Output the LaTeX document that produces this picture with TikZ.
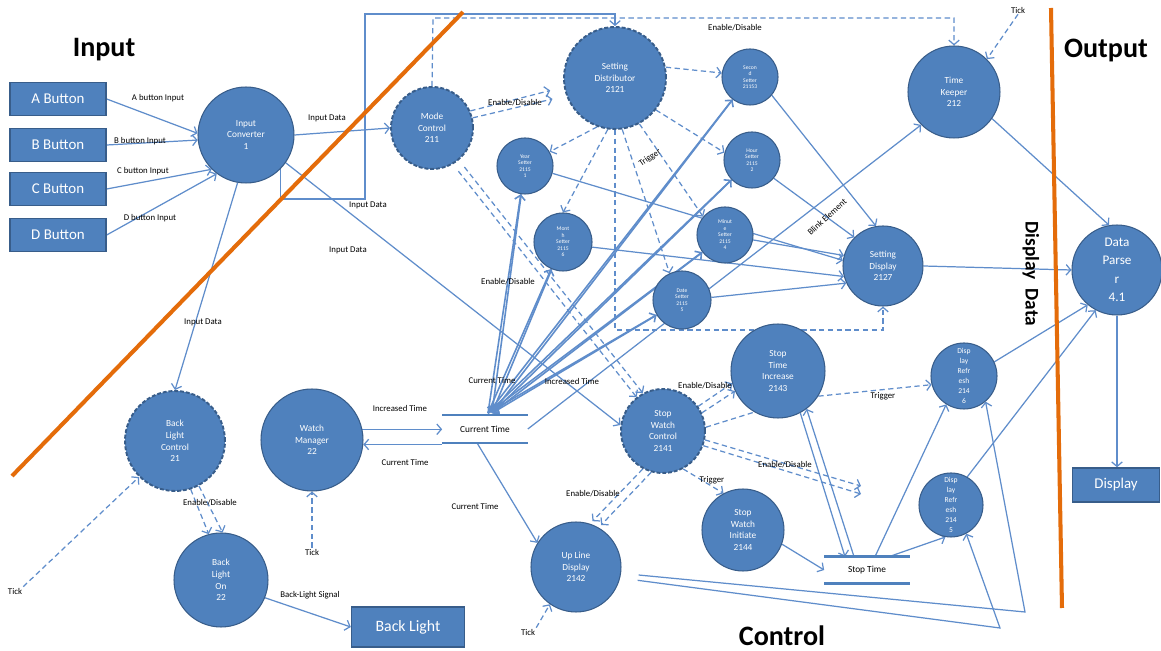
\documentclass[tikz,border=0pt]{standalone}
\usepackage{fontspec}
\setmainfont{Carlito}
\usetikzlibrary{arrows.meta,calc}
\pgfdeclarelayer{bg}
\pgfsetlayers{bg,main}
\definecolor{nb}{HTML}{4F81BD}
\definecolor{nbd}{HTML}{385D8A}
\definecolor{ln}{HTML}{5F8DCB}
\definecolor{orng}{HTML}{E46C0A}
\begin{document}
\begin{tikzpicture}[x=0.02cm,y=-0.02cm,
  proc/.style={circle, fill=nb, draw=nbd, line width=0.6pt, text=white, align=center, inner sep=0pt, font=\fontsize{5.3}{6.6}\selectfont},
  dproc/.style={proc, line width=1.1pt, dash pattern=on 2.2pt off 1.1pt},
  sproc/.style={proc, font=\fontsize{3.2}{3.7}\selectfont},
  rproc/.style={proc, font=\fontsize{4.3}{5.6}\selectfont},
  btn/.style={rectangle, fill=nb, draw=nbd, line width=0.8pt, text=white, font=\fontsize{8.5}{10}\selectfont, minimum width=1.92cm, minimum height=0.66cm},
  flow/.style={draw=ln, line width=0.7pt, -{Straight Barb[length=2.6pt,width=6pt]}},
  dflow/.style={flow, dash pattern=on 3pt off 2pt},
  lbl/.style={font=\fontsize{5}{6}\selectfont, inner sep=0.5pt},
  ttl/.style={font=\fontsize{16}{18}\selectfont\bfseries},
  store/.style={minimum width=1.7cm, minimum height=0.54cm, font=\fontsize{5.3}{6}\selectfont, inner sep=0pt},
  sline/.style={draw=nb, line width=1.4pt}
]
\useasboundingbox (0,0) rectangle (1161,651);

% titles
\node[ttl] (tin) at (104,50) {Input};
\node[ttl] (tout) at (1106,50) {Output};
\node[ttl] (tctl) at (782,636) {Control};

% orange boundaries
\draw[orng, line width=2.3pt] (12,476) -- (463,12);
\draw[orng, line width=2.3pt] (1051,8) -- (1062,608);

% buttons
\node[btn] (ba) at (58,99) {A Button};
\node[btn] (bb) at (58,145) {B Button};
\node[btn] (bc) at (58,189) {C Button};
\node[btn] (bd) at (58,235) {D Button};

% processes
\node[proc, minimum size=1.92cm] (ic) at (246,135) {Input\\Converter\\1};
\node[dproc, minimum size=1.64cm] (mc) at (432,128) {Mode\\Control\\211};
\node[dproc, minimum size=2.04cm] (sd) at (615,78) {Setting\\Distributor\\2121};
\node[sproc, minimum size=1.12cm] (ys) at (525,166) {Year\\Setter\\2115\\1};
\node[sproc, minimum size=1.16cm] (mos) at (563,242) {Mont\\h\\Setter\\2115\\6};
\node[sproc, minimum size=1.16cm] (das) at (682,300) {Date\\Setter\\2115\\5};
\node[sproc, minimum size=1.12cm] (mis) at (725,235) {Minut\\e\\Setter\\2115\\4};
\node[sproc, minimum size=1.12cm] (hs) at (752,160) {Hour\\Setter\\2115\\2};
\node[sproc, minimum size=1.12cm] (ss) at (750,77) {Secon\\d\\Setter\\21153};
\node[proc, minimum size=1.84cm] (tk) at (954,92) {Time\\Keeper\\212};
\node[proc, minimum size=1.6cm] (sdp) at (883,266) {Setting\\Display\\2127};
\node[proc, minimum size=1.8cm, font=\fontsize{7.5}{10.5}\selectfont] (dp) at (1117,270) {Data\\Parse\\r\\4.1};
\node[btn, minimum width=1.74cm, minimum height=0.68cm] (disp) at (1116,485) {Display};
\node[proc, minimum size=2.04cm] (wm) at (312,440) {Watch\\Manager\\22};
\node[dproc, minimum size=2.0cm] (blc) at (175,441) {Back\\Light\\Control\\21};
\node[proc, minimum size=1.88cm] (blo) at (221,580) {Back\\Light\\On\\22};
\node[btn, minimum width=2.26cm, minimum height=0.8cm, font=\fontsize{9}{10}\selectfont] (bl) at (408,627) {Back Light};
\node[dproc, minimum size=1.68cm] (swc) at (663,431) {Stop\\Watch\\Control\\2141};
\node[proc, minimum size=1.88cm] (sti) at (778,371) {Stop\\Time\\Increase\\2143};
\node[proc, minimum size=1.64cm] (swi) at (743,530) {Stop\\Watch\\Initiate\\2144};
\node[proc, minimum size=1.8cm] (uld) at (576,567) {Up Line\\Display\\2142};
\node[rproc, minimum size=1.32cm] (dr6) at (964,376) {Disp\\lay\\Refr\\esh\\214\\6};
\node[rproc, minimum size=1.28cm] (dr5) at (951,505) {Disp\\lay\\Refr\\esh\\214\\5};

% stores
\node[store] (ct) at (485,429) {Current Time};
\node[store, minimum height=0.52cm] (st) at (867,570) {Stop Time};
\draw[sline] (ct.north west) -- (ct.north east);
\draw[sline] (ct.south west) -- (ct.south east);
\draw[sline] (st.north west) -- (st.north east);
\draw[sline] (st.south west) -- (st.south east);

% tick sources
\node[lbl] (tick1) at (1018,10) {Tick};
\node[lbl] (tick2) at (312,552) {Tick};
\node[lbl] (tick3) at (15,591) {Tick};
\node[lbl] (tick4) at (528,632) {Tick};

% free ends
\coordinate (ed1) at (861,486);
\coordinate (ed2) at (861,494);

% labels
\node[lbl] (l1) at (158,98) {A button Input};
\node[lbl] (l2) at (140,141) {B button Input};
\node[lbl] (l3) at (143,171) {C button Input};
\node[lbl] (l4) at (150,218) {D button Input};
\node[lbl] (l5) at (327,118) {Input Data};
\node[lbl] (l6) at (368,205) {Input Data};
\node[lbl] (l7) at (348,250) {Input Data};
\node[lbl] (l8) at (203,322) {Input Data};
\node[lbl] (l9) at (515,103) {Enable/Disable};
\node[lbl] (l10) at (735,28) {Enable/Disable};
\node[lbl] (l11) at (508,282) {Enable/Disable};
\node[lbl, rotate=35] (l12) at (650,158) {Trigger};
\node[lbl, rotate=42] (l13) at (827,217) {Blink Element};
\node[lbl] (l14) at (492,381) {Current Time};
\node[lbl] (l15) at (572,381) {Increased Time};
\node[lbl] (l16) at (400,408) {Increased Time};
\node[lbl] (l17) at (405,463) {Current Time};
\node[lbl] (l18) at (210,503) {Enable/Disable};
\node[lbl] (l19) at (310,595) {Back-Light Signal};
\node[lbl] (l20) at (475,507) {Current Time};
\node[lbl] (l21) at (705,386) {Enable/Disable};
\node[lbl] (l22) at (712,480) {Trigger};
\node[lbl] (l23) at (593,494) {Enable/Disable};
\node[lbl] (l24) at (785,465) {Enable/Disable};
\node[lbl] (l25) at (883,396) {Trigger};
\node[font=\fontsize{11}{12}\selectfont\bfseries, rotate=-90, inner sep=0pt] (l26) at (1031,274) {Display\ \ Data};

\begin{pgfonlayer}{bg}
\fill[white] (0,0) rectangle (1161,651);
% inputs
\draw[flow] (ba.east) -- (ic.178);
\draw[flow] (bb.east) -- (ic.186);
\draw[flow] (bc.east) -- (ic.225);
\draw[flow] (bd.east) -- (ic.233);
% input converter outputs
\draw[flow] (ic.east) -- (mc.west);
\draw[flow] (ic.-45) |- (365,199) -- (365,14) -| (sd.north);
\draw[flow] (ic.-35) -- (swc.172);
\draw[flow] (ic.-100) -- (blc.north);
% mode control
\draw[dflow] (mc.north) -- (433,18) -| (tk.north);
\draw[dflow, shorten >=8pt] (mc.24) -- (sd.190);
\draw[dflow, shorten >=8pt] (mc.14) -- (sd.200);
\draw[dflow, shorten <=5pt] (mc.-50) -- (swc.118);
\draw[dflow, shorten <=5pt] (mc.-60) -- (swc.128);
% setting distributor triggers
\draw[dflow] (sd.250) -- (ys.30);
\draw[dflow] (sd.262) -- (mos.north);
\draw[dflow] (sd.-82) -- (das.115);
\draw[dflow] (sd.-62) -- (mis.140);
\draw[dflow] (sd.-38) -- (hs.165);
\draw[dflow] (sd.12) -- (ss.172);
\draw[dflow] (sd.south) -- (615,330) -| (sdp.south);
% current time <-> setters
\foreach \t in {ys,mos,das,mis,hs,ss}{
  \draw[flow, line width=0.9pt] ([shift={(3,-2)}]ct.north) -- (\t);
  \draw[flow, line width=0.9pt] (\t) -- ([shift={(7,-2)}]ct.north);
}
\draw[flow] (ct.east) -- (tk.225);
% setters -> setting display
\draw[flow] (ys.-15) -- (sdp.172);
\draw[flow] (mos.-10) -- (sdp.195);
\draw[flow] (das.5) -- (sdp.205);
\draw[flow] (mis.-10) -- (sdp.165);
\draw[flow] (hs.-40) -- (sdp.135);
\draw[flow] (ss.-40) -- (sdp.100);
% output side
\draw[flow] (sdp.east) -- (dp.west);
\draw[flow] (tk.-35) -- (dp.100);
\draw[dflow] (tick1.south) -- (tk.45);
\draw[flow] (dp.south) -- (dp.south |- disp.north);
\draw[flow] (dr6.25) -- (dp.230);
\draw[flow] (dr5.60) -- (dp.242);
% watch manager
\draw[flow] (wm.12) -- (wm.12 -| ct.west);
\draw[flow] (wm.-5 -| ct.west) -- (wm.-5);
\draw[dflow] (tick2.north) -- (wm.south);
% back light
\draw[dflow] (tick3.north east) -- (blc.225);
\draw[dflow] (blc.-72) -- (blo.105);
\draw[dflow] (blc.-62) -- (blo.88);
\draw[flow] (blo.-22) -- (bl.west);
% stop watch
\draw[flow] ([shift={(-8,0)}]ct.south) -- (uld.148);
\draw[dflow] (tick4.north east) -- (uld.235);
\draw[dflow] (swc.35) -- (sti.195);
\draw[dflow] (swc.25) -- (sti.205);
\draw[dflow, -] (swc.5) -- (sti.240);
\draw[dflow] (swc.-62) -- (swi.118);
\draw[dflow, shorten >=2pt] (swc.-118) -- (uld.72);
\draw[dflow, shorten >=2pt] (swc.-106) -- (uld.60);
\draw[dflow] (swc.-12) -- (ed1);
\draw[dflow] (swc.-20) -- (ed2);
\draw[flow] (sti.-62) -- ([shift={(-22,0)}]st.north);
\draw[flow] ([shift={(-13,0)}]st.north) -- (sti.-53);
\draw[dflow] (sti.-32) -- (dr6.195);
\draw[flow] (swi.-20) -- (st.west);
\draw[flow] ([shift={(8,0)}]st.north) -- (dr6.238);
\draw[flow] ([shift={(22,0)}]st.north) -- (dr5.-100);
\draw[flow, shorten <=10pt] (uld.-8) -- (1025,612) -- (dr6.-50);
\draw[flow, shorten <=10pt] (uld.-14) -- (1000,628) -- (dr5.-62);
\end{pgfonlayer}
\end{tikzpicture}
\end{document}
